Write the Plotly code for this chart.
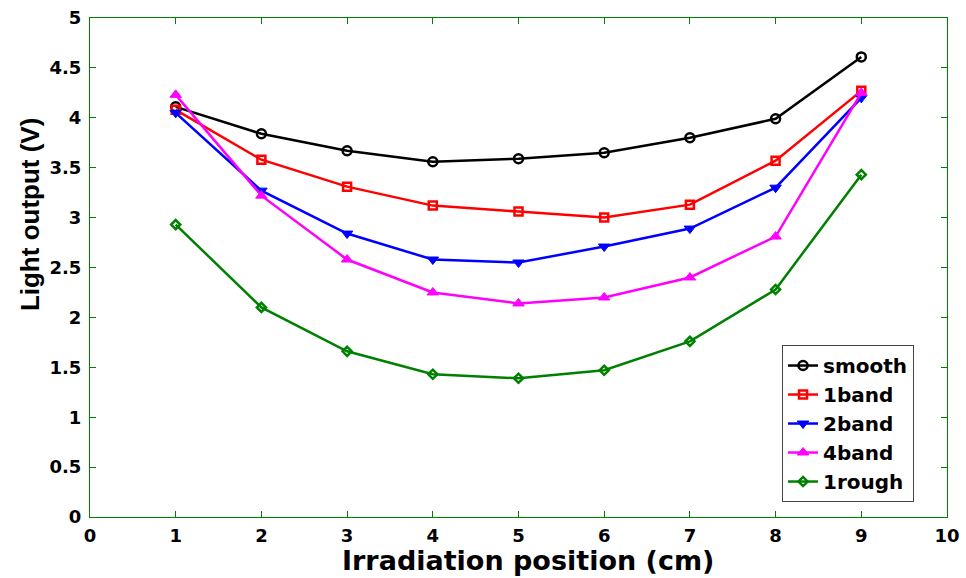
import plotly.graph_objects as go

positions = [1, 2, 3, 4, 5, 6, 7, 8, 9]
smooth = [4.11, 3.84, 3.67, 3.56, 3.59, 3.65, 3.80, 3.99, 4.61]
band1 = [4.08, 3.58, 3.31, 3.12, 3.06, 3.00, 3.13, 3.57, 4.27]
band2 = [4.05, 3.27, 2.84, 2.58, 2.55, 2.71, 2.89, 3.30, 4.20]
band4 = [4.23, 3.22, 2.58, 2.25, 2.14, 2.20, 2.40, 2.81, 4.25]
rough1 = [2.93, 2.10, 1.66, 1.43, 1.39, 1.47, 1.76, 2.28, 3.43]

x_ticks = list(range(11))
y_ticks = [0, 0.5, 1, 1.5, 2, 2.5, 3, 3.5, 4, 4.5, 5]
y_tick_text = ["0", "0.5", "1", "1.5", "2", "2.5", "3", "3.5", "4", "4.5", "5"]

series = [
    ("smooth", smooth, "black", "circle-open", 9, 2.5),
    ("1band", band1, "red", "square-open", 8, 2.5),
    ("2band", band2, "blue", "triangle-down", 10, 1),
    ("4band", band4, "magenta", "triangle-up", 10, 1),
    ("1rough", rough1, "green", "diamond-open", 7, 2.5),
]

fig = go.Figure()
for name, vals, color, sym, size, lw in series:
    fig.add_trace(go.Scatter(
        x=positions, y=vals, name=name, mode="lines+markers",
        line=dict(color=color, width=2.5),
        marker=dict(symbol=sym, size=size, color=color,
                    line=dict(color=color, width=lw)),
    ))

FONT = "DejaVu Sans"
tick_font = dict(family=FONT, size=18, color="black", weight="bold")

fig.update_layout(
    width=966, height=578,
    margin=dict(l=90, r=19, t=18, b=61),
    plot_bgcolor="white", paper_bgcolor="white",
    font=dict(family=FONT, color="black"),
    showlegend=True,
    legend=dict(
        x=0.8075, y=0.03, xanchor="left", yanchor="bottom",
        bgcolor="white", bordercolor="#444444", borderwidth=1,
        font=dict(family=FONT, size=20, color="black", weight="bold"),
        tracegroupgap=0, itemwidth=30,
    ),
    xaxis=dict(
        range=[0, 10], tickmode="array", tickvals=x_ticks,
        ticktext=[str(v) for v in x_ticks],
        showgrid=False, zeroline=False, automargin=False,
        showline=True, linecolor="green", linewidth=1, mirror="ticks",
        ticks="inside", ticklen=6, tickcolor="green",
        tickfont=tick_font, ticklabelstandoff=2,
    ),
    yaxis=dict(
        range=[0, 5], tickmode="array", tickvals=y_ticks, ticktext=y_tick_text,
        showgrid=False, zeroline=False, automargin=False,
        showline=True, linecolor="green", linewidth=1, mirror="ticks",
        ticks="inside", ticklen=6, tickcolor="green",
        tickfont=tick_font, ticklabelstandoff=4,
    ),
    annotations=[
        dict(
            text="Light output (V)", textangle=-90,
            xref="paper", yref="paper", x=-0.07, y=0.605,
            xanchor="center", yanchor="middle", showarrow=False,
            font=dict(family="Liberation Sans", size=26, color="black", weight="bold"),
        ),
        dict(
            text="Irradiation position (cm)",
            xref="paper", yref="paper", x=0.511, y=-0.088,
            xanchor="center", yanchor="middle", showarrow=False,
            font=dict(family=FONT, size=27, color="black", weight="bold"),
        ),
    ],
)

fig.write_html("out.html")
